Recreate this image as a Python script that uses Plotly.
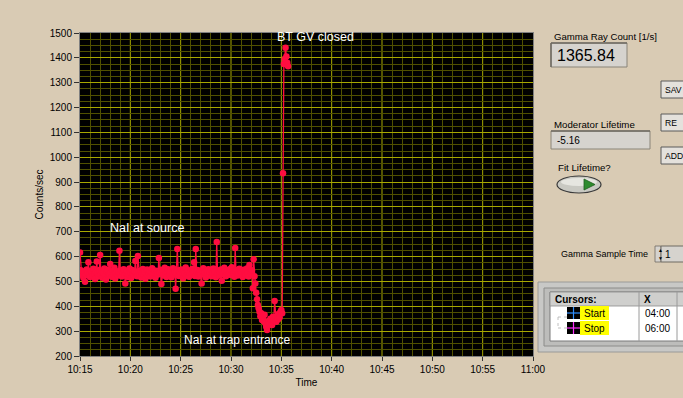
import plotly.graph_objects as go
import pandas as pd

# ---------------- data ----------------
start_time = "2010-01-01 10:15:00"
sample_seconds = 5

# NaI at source (10:15:00 .. ~10:32:20), one value per 5 s
counts_source = [
    617, 545, 528, 540, 515, 532, 499, 526, 548, 535, 577, 530,
    518, 542, 536, 522, 551, 529, 510, 538, 580, 533, 520, 546,
    606, 527, 541, 515, 534, 552, 523, 508, 539, 547, 526, 531,
    570, 536, 519, 544, 528, 555, 512, 533, 541, 524, 538, 624,
    531, 545, 520, 537, 549, 526, 492, 534, 543, 518, 529, 552,
    537, 514, 546, 530, 525, 541, 582, 533, 521, 602, 538, 527,
    544, 516, 532, 550, 529, 539, 511, 536, 548, 523, 534, 545,
    520, 539, 553, 527, 533, 544, 515, 531, 542, 528, 594, 536,
    547, 490, 533, 541, 524, 555, 530, 518, 538, 549, 526, 535,
    542, 517, 531, 553, 528, 539, 471, 534, 631, 545, 522, 537,
    529, 548, 536, 513, 541, 532, 556, 524, 538, 545, 519, 533,
    540, 527, 551, 534, 577, 522, 631, 539, 546, 520, 535, 543,
    528, 492, 541, 553, 530, 537, 516, 544, 532, 549, 525, 538,
    546, 521, 535, 552, 529, 540, 517, 659, 533, 544, 526, 539,
    548, 503, 536, 530, 555, 542, 521, 537, 545, 528, 534, 550,
    526, 557, 540, 531, 519, 635, 538, 546, 524, 533, 551, 529,
    542, 536, 518, 547, 531, 539, 525, 552, 534, 520, 566, 537,
    529, 545, 473, 589, 521,
]
# NaI moved to trap entrance
counts_trap = [
    492, 455, 428, 405, 392, 378, 360, 372, 345, 358, 340, 366,
    332, 318, 305, 322, 341, 330, 350, 336, 325, 358, 344, 421,
    352, 338, 360, 347, 370, 355, 378, 385, 372,
]
# BT gate valve closed
counts_closed = [936, 1375, 1395, 1441, 1405, 1380, 1366]

all_counts = counts_source + counts_trap + counts_closed
times = pd.date_range(start_time, periods=len(all_counts), freq=f"{sample_seconds}s")

x_range = ["2010-01-01 10:15:00", "2010-01-01 11:00:00"]
y_range = [200, 1500]
x_major_ticks = pd.date_range(x_range[0], x_range[1], freq="5min")

label_gamma = "Gamma Ray Count [1/s]"
value_gamma = "1365.84"
label_lifetime = "Moderator Lifetime"
value_lifetime = "-5.16"
cursor_names = ["Start", "Stop"]
cursor_x = ["04:00", "06:00"]

# ---------------- figure ----------------
BG = "#d9cbb4"
RED = "#ff0d40"
MAJOR = "#a8a800"
MINOR = "#505000"
W, H = 683, 398
L, R, T, B = 80, 150, 33, 42
PW, PH = W - L - R, H - T - B


def px(x, y):
    return (x - L) / PW, (H - B - y) / PH


fig = go.Figure()
fig.add_trace(go.Scatter(
    x=times, y=all_counts, mode="lines+markers",
    line=dict(color=RED, width=1.3),
    marker=dict(color=RED, size=6.5, line=dict(width=0)),
    hoverinfo="x+y", showlegend=False,
))

shapes = []
annotations = []

# major vertical grid lines (drawn below the data)
for t in x_major_ticks[1:-1]:
    shapes.append(dict(type="line", xref="x", yref="paper", x0=t, x1=t, y0=0, y1=1,
                       line=dict(color=MAJOR, width=1), layer="below"))


def text(x, y, s, size=10, color="black", anchor="left", family="Liberation Sans", bold=False):
    xx, yy = px(x, y)
    annotations.append(dict(
        x=xx, y=yy, xref="paper", yref="paper", text=("<b>%s</b>" % s) if bold else s,
        showarrow=False, xanchor=anchor, yanchor="middle",
        font=dict(size=size, color=color, family=family),
    ))


def rect(x0, y0, x1, y1, fill, line="rgba(0,0,0,0)", lw=0, kind="rect"):
    a0, b0 = px(x0, y1)
    a1, b1 = px(x1, y0)
    shapes.append(dict(type=kind, xref="paper", yref="paper", x0=a0, y0=b0, x1=a1, y1=b1,
                       fillcolor=fill, line=dict(color=line, width=lw), layer="above"))


def seg(x0, y0, x1, y1, color, lw=1, dash="solid"):
    a0, b0 = px(x0, y0)
    a1, b1 = px(x1, y1)
    shapes.append(dict(type="line", xref="paper", yref="paper", x0=a0, y0=b0, x1=a1, y1=b1,
                       line=dict(color=color, width=lw, dash=dash), layer="above"))


# in-plot annotations
text(315, 37, "BT GV closed", size=12.5, color="white", anchor="center")
text(108, 228, "NaI at source", size=12.5, color="white")
text(182, 340, "NaI at trap entrance", size=12, color="white")

# Gamma ray count indicator
text(552, 36, label_gamma, size=9.6)
rect(551, 43, 627, 67, "#d6d3ce", "#8a8478", 1)
seg(551, 43, 627, 43, "#6e6a62", 1.5)
seg(551, 43, 551, 67, "#6e6a62", 1.5)
text(555, 55, value_gamma, size=16)

# buttons (clipped by right edge of the window)
for y0, lab in [(81, "SAV"), (114, "RE"), (147, "ADD")]:
    rect(661, y0, 695, y0 + 17, "#e4e1dc", "#5a5a5a", 1)
    text(663, y0 + 9, lab, size=8.6)

# Moderator lifetime
text(552, 124, label_lifetime, size=9.7)
rect(551, 131, 650, 149, "#d6d3ce", "#8a8478", 1)
seg(551, 131, 650, 131, "#6e6a62", 1.5)
text(555, 140, value_lifetime, size=10)

# Fit lifetime toggle
text(556, 167, "Fit Lifetime?", size=9.7)
rect(557, 176, 601, 193, "#c9c9c2", "#3a3a3a", 1.2, kind="circle")
rect(561, 178, 597, 186, "#e6e6e0", kind="circle")
tx0, ty0 = px(584, 179)
tx1, ty1 = px(584, 190)
tx2, ty2 = px(595, 184.5)
shapes.append(dict(type="path", xref="paper", yref="paper",
                   path=f"M {tx0},{ty0} L {tx1},{ty1} L {tx2},{ty2} Z",
                   fillcolor="#2e8b2e", line=dict(color="#1e5e1e", width=0.8), layer="above"))

# Gamma sample time
text(559, 254, "Gamma Sample Time", size=9)
rect(655, 246, 661, 262, "#d6d3ce", "#6e6a62", 0.8)
text(655.5, 250, "▲", size=5)
text(655.5, 258, "▼", size=5)
rect(661, 246, 695, 262, "#d6d3ce", "#6e6a62", 1)
text(663, 254, "1", size=10)

# Cursor panel
rect(538, 282, 700, 352, "#c8c8c6", "#9a9a98", 1)
rect(544, 288, 700, 346, "#bdbdbb", "#8c8c8a", 1)
rect(550, 292, 700, 341, "white", "#7a7a7a", 1)
rect(550, 292, 700, 306, "#cfcfcd", "#8c8c8a", 0.8)
seg(639, 292, 639, 341, "#9a9a9a", 1)
seg(677, 292, 677, 341, "#9a9a9a", 1)
text(553, 299, "Cursors:", size=10, bold=True)
text(642, 299, "X", size=10, bold=True)
seg(558, 317, 558, 328, "#b0b0b0", 0.8, "dot")
seg(558, 317, 567, 317, "#b0b0b0", 0.8, "dot")
seg(558, 328, 567, 328, "#b0b0b0", 0.8, "dot")
for i, (nm, cx, cc) in enumerate(zip(cursor_names, cursor_x, ["#2f8fff", "#ff30ff"])):
    yc = 313 + 15 * i
    rect(567, yc - 6, 580, yc + 6, "black")
    seg(567, yc, 580, yc, cc, 1.2)
    seg(573.5, yc - 6, 573.5, yc + 6, cc, 1.2)
    rect(580, yc - 7, 609, yc + 7, "#ffff00")
    text(582, yc, nm, size=10)
    text(643, yc, cx, size=10)

fig.update_layout(
    template="none",
    width=W, height=H,
    margin=dict(l=L, r=R, t=T, b=B, pad=0),
    paper_bgcolor=BG, plot_bgcolor="black",
    font=dict(family="Liberation Sans", size=10, color="black"),
    shapes=shapes, annotations=annotations,
    xaxis=dict(
        type="date", range=x_range, dtick=300000, tickformat="%H:%M",
        showgrid=False,
        minor=dict(dtick=60000, showgrid=True, gridcolor=MINOR, gridwidth=1, ticks=""),
        ticks="outside", ticklen=4, tickcolor="#333333",
        showline=True, linecolor="#808080", linewidth=1, mirror=True,
        zeroline=False, tickfont=dict(size=10),
        title=dict(text="Time", font=dict(size=10), standoff=4),
    ),
    yaxis=dict(
        range=y_range, dtick=100,
        showgrid=True, gridcolor=MAJOR, gridwidth=1,
        minor=dict(dtick=25, showgrid=True, gridcolor=MINOR, gridwidth=1, ticks=""),
        ticks="outside", ticklen=5, tickcolor="#333333",
        showline=True, linecolor="#808080", linewidth=1, mirror=True,
        zeroline=False, tickfont=dict(size=10),
        title=dict(text="Counts/sec", font=dict(size=10), standoff=4),
    ),
)

fig.write_html("out.html")
